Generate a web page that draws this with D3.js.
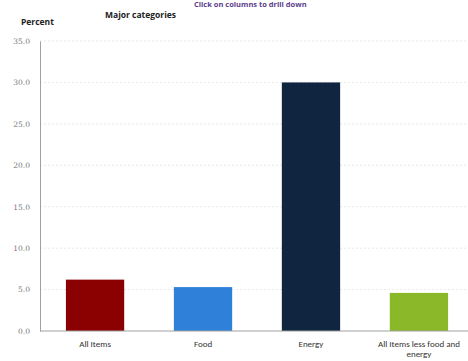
<!DOCTYPE html>
<html>
<head>
<meta charset="utf-8">
<script src="https://cdn.jsdelivr.net/npm/d3@7"></script>
<style>
  body { margin: 0; background: #fff; }
  svg { display: block; }
</style>
</head>
<body>
<div id="chart"></div>
<script>
const categories = ['All Items', 'Food', 'Energy', 'All Items less food and energy']
const values = [6.2, 5.3, 30.0, 4.6]
const barColors = ['#8b0000', '#2f80d8', '#0f2540', '#8ab828']
const yTicks = [0, 5, 10, 15, 20, 25, 30, 35]

const W = 468, H = 361
const margin = { top: 41, right: 0, bottom: 30, left: 40 }

const svg = d3.select('#chart').append('svg')
  .attr('width', W)
  .attr('height', H)

const x = d3.scaleBand()
  .domain(categories)
  .range([margin.left, W + 6])
  .paddingInner(0.46)
  .paddingOuter(0.24)

const y = d3.scaleLinear()
  .domain([0, 35])
  .range([H - margin.bottom, margin.top])

// Gridlines
svg.append('g')
  .selectAll('line')
  .data(yTicks.filter(d => d > 0))
  .enter().append('line')
  .attr('x1', margin.left)
  .attr('x2', W - 2)
  .attr('y1', d => y(d))
  .attr('y2', d => y(d))
  .attr('stroke', '#dedede')
  .attr('stroke-width', 0.7)
  .attr('stroke-dasharray', '2 2')

// Y axis
const yAxis = svg.append('g')
  .attr('transform', `translate(${margin.left},0)`)
  .call(d3.axisLeft(y).tickValues(yTicks).tickFormat(d3.format('.1f')).tickSize(0).tickPadding(10))
yAxis.select('.domain').attr('stroke', '#a0a0a0')
yAxis.selectAll('text')
  .attr('font-family', '"DejaVu Serif", serif')
  .attr('font-size', 7.5)
  .attr('fill', '#777')

// Bars
svg.append('g')
  .selectAll('rect')
  .data(categories)
  .enter().append('rect')
  .attr('x', d => x(d))
  .attr('width', x.bandwidth())
  .attr('y', (d, i) => y(values[i]))
  .attr('height', (d, i) => y(0) - y(values[i]))
  .attr('fill', (d, i) => barColors[i])

// X axis baseline
svg.append('line')
  .attr('x1', margin.left)
  .attr('x2', W)
  .attr('y1', y(0))
  .attr('y2', y(0))
  .attr('stroke', '#a0a0a0')

// Category labels (wrap long one)
const labelLines = {
  'All Items less food and energy': ['All Items less food and', 'energy']
}
const xLabels = svg.append('g')
  .selectAll('text')
  .data(categories)
  .enter().append('text')
  .attr('x', d => x(d) + x.bandwidth() / 2)
  .attr('y', y(0) + 16)
  .attr('text-anchor', 'middle')
  .attr('font-family', 'Carlito, "Open Sans", sans-serif')
  .attr('font-size', 9)
  .attr('fill', '#333')
xLabels.each(function (d) {
  const lines = labelLines[d] || [d]
  d3.select(this).selectAll('tspan')
    .data(lines)
    .enter().append('tspan')
    .attr('x', x(d) + x.bandwidth() / 2)
    .attr('dy', (l, i) => i === 0 ? 0 : 10)
    .text(l => l)
})

// Titles
svg.append('text')
  .attr('x', 105)
  .attr('y', 18)
  .attr('font-family', '"Open Sans", sans-serif')
  .attr('font-size', 8.5)
  .attr('font-weight', 'bold')
  .attr('fill', '#222')
  .text('Major categories')

svg.append('text')
  .attr('x', 21)
  .attr('y', 25)
  .attr('font-family', '"Open Sans", sans-serif')
  .attr('font-size', 8.5)
  .attr('font-weight', 'bold')
  .attr('fill', '#222')
  .text('Percent')

svg.append('text')
  .attr('x', 194)
  .attr('y', 7)
  .attr('font-family', '"Open Sans", sans-serif')
  .attr('font-size', 7.5)
  .attr('font-weight', 'bold')
  .attr('fill', '#5b3d8a')
  .text('Click on columns to drill down')
</script>
</body>
</html>
